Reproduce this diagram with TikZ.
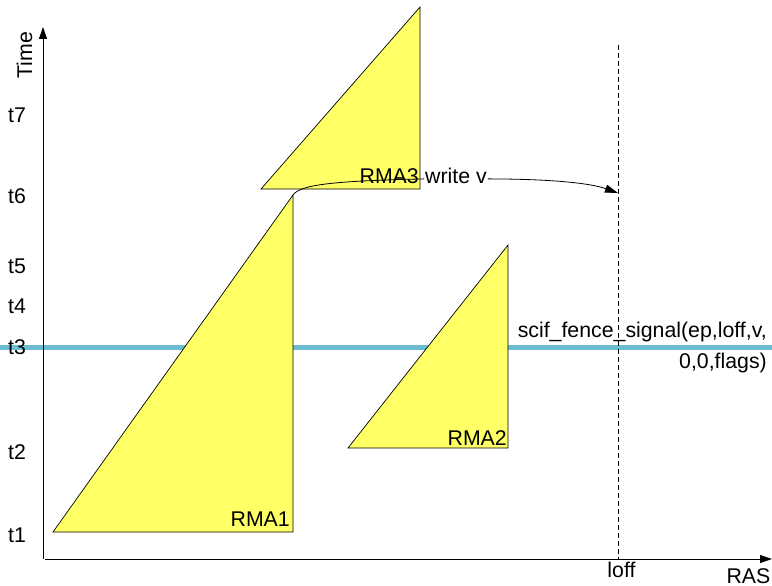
\documentclass[tikz,border=0pt]{standalone}
\usepackage{fontspec}
\setmainfont{Liberation Sans}
\usetikzlibrary{arrows.meta}
\definecolor{rmayellow}{RGB}{255,255,102}
\definecolor{fenceblue}{RGB}{107,190,210}
\begin{document}
\begin{tikzpicture}[x=1pt,y=-1pt,
  lbl/.style={font=\fontsize{21.3}{25}\selectfont, inner sep=0pt},
  rma/.style={fill=rmayellow, draw=black, line width=0.7pt, line join=miter},
  axisline/.style={line width=1pt, -{Triangle[length=12pt,width=8pt]}},
  fence/.style={fenceblue, line width=5pt},
  loffline/.style={line width=0.8pt, dash pattern=on 5pt off 3pt},
  conn/.style={line width=0.8pt},
]
\useasboundingbox (0,0) rectangle (772,586);
% key coordinates
\coordinate (fenceL) at (0,347);
\coordinate (fenceR) at (772,347);
\coordinate (loffTop) at (618,45);
\coordinate (loffBot) at (618,559);
\coordinate (loffHit) at (618,193);
\coordinate (yBot) at (43,559);
\coordinate (yTop) at (43,27);
\coordinate (xLeft) at (45,559);
\coordinate (xRight) at (772,559);
\coordinate (r1a) at (53,532);
\coordinate (r1b) at (293,532);
\coordinate (r1c) at (293,195);
\coordinate (r2a) at (348,448);
\coordinate (r2b) at (508,448);
\coordinate (r2c) at (508,245);
\coordinate (r3a) at (261,189);
\coordinate (r3b) at (420,189);
\coordinate (r3c) at (420,7);
% fence line and loff
\draw[fence] (fenceL) -- (fenceR);
\draw[loffline] (loffTop) -- (loffBot);
% triangles
\draw[rma] (r1a) -- (r1b) -- (r1c) -- cycle;
\draw[rma] (r2a) -- (r2b) -- (r2c) -- cycle;
\draw[rma] (r3a) -- (r3b) -- (r3c) -- cycle;
% axes
\draw[axisline] (yBot) -- (yTop);
\draw[axisline] (xLeft) -- (xRight);
% labels
\node[lbl, rotate=90, anchor=base] (time) at (32,55) {Time};
\node[lbl, anchor=base] (t7) at (17,122) {t7};
\node[lbl, anchor=base] (t6) at (17,203) {t6};
\node[lbl, anchor=base] (t5) at (17,273) {t5};
\node[lbl, anchor=base] (t4) at (17,313) {t4};
\node[lbl, anchor=base] (t3) at (17,354) {t3};
\node[lbl, anchor=base] (t2) at (17,459) {t2};
\node[lbl, anchor=base] (t1) at (17,542) {t1};
\node[lbl, anchor=base east] (rma1) at (290,526) {RMA1};
\node[lbl, anchor=base east] (rma2) at (507,445) {RMA2};
\node[lbl, anchor=base east] (rma3) at (419,183) {RMA3};
\node[lbl, anchor=base west, inner xsep=1pt] (wv) at (424,183) {write v};
\node[lbl, anchor=base east] (scif1) at (767,337) {scif\_fence\_signal(ep,loff,v,};
\node[lbl, anchor=base east] (scif2) at (767,368) {0,0,flags)};
\node[lbl, anchor=base] (loff) at (621.5,577) {loff};
\node[lbl, anchor=base] (ras) at (748.5,583) {RAS};
% connectors
\draw[conn] (r1c) .. controls (300,185) and (330,181) .. ([yshift=-3.5pt]wv.west);
\draw[conn, -{Triangle[length=13pt,width=8pt]}] ([yshift=-3.5pt]wv.east) .. controls (550,179) and (590,183) .. (loffHit);
\end{tikzpicture}
\end{document}
